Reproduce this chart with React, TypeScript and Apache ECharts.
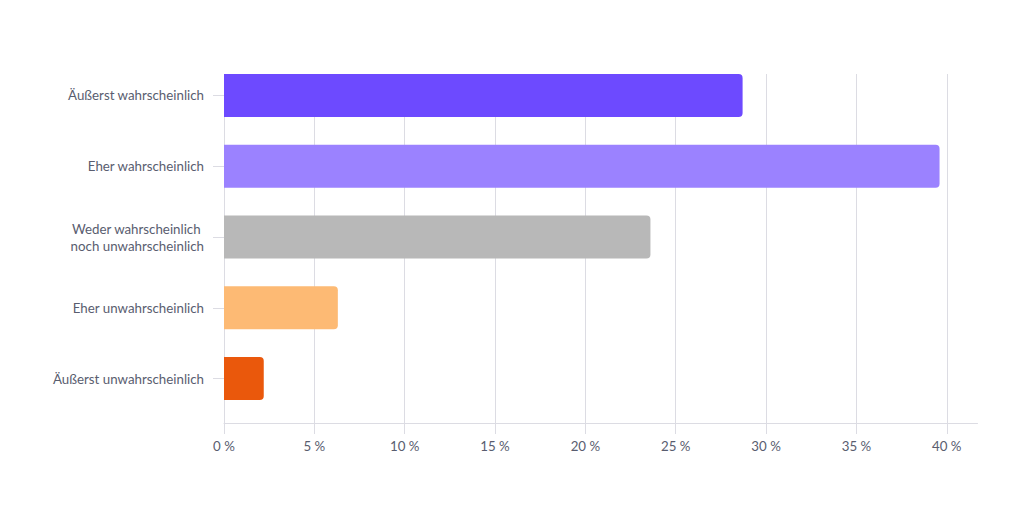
import React, { useEffect, useRef } from "react";
import * as echarts from "echarts";

const categories = [
  "Äußerst wahrscheinlich",
  "Eher wahrscheinlich",
  "Weder wahrscheinlich \nnoch unwahrscheinlich",
  "Eher unwahrscheinlich",
  "Äußerst unwahrscheinlich",
];
const values = [28.7, 39.6, 23.6, 6.3, 2.2];
const barColors = ["#6D4AFF", "#9B82FF", "#B8B8B8", "#FDBA74", "#EA580C"];
const xTicks = [0, 5, 10, 15, 20, 25, 30, 35, 40];
const xMax = 41.7;

const textColor = "#595d6f";
const lineColor = "#dcdce3";
const font = "Lato, 'Noto Sans', sans-serif";

export default function App() {
  const ref = useRef<HTMLDivElement>(null);
  useEffect(() => {
    if (!ref.current) return;
    const chart = echarts.init(ref.current, undefined, { renderer: "svg" });
    chart.setOption({
      animation: false,
      backgroundColor: "#ffffff",
      grid: [
        { left: 224, right: 46.5, top: 74, height: 349 },
        { left: 224, right: 46.5, top: 60, height: 354 },
      ],
      xAxis: [
        {
          gridIndex: 0,
          type: "value",
          min: 0,
          max: xMax,
          interval: 5,
          axisLine: { show: true, lineStyle: { color: lineColor, width: 1 } },
          axisTick: {
            show: true,
            length: 11,
            customValues: xTicks,
            lineStyle: { color: lineColor, width: 1 },
          },
          axisLabel: {
            customValues: xTicks,
            formatter: (v: number) => `${v} %`,
            margin: 16,
            color: textColor,
            fontFamily: font,
            fontSize: 13.3,
          },
          splitLine: {
            show: true,
            lineStyle: { color: lineColor, width: 1 },
          },
        },
        { gridIndex: 1, type: "value", min: 0, max: xMax, show: false },
      ],
      yAxis: [
        { gridIndex: 0, type: "category", data: categories, show: false },
        {
          gridIndex: 1,
          type: "category",
          data: categories,
          inverse: true,
          axisLine: { show: false },
          axisTick: {
            show: true,
            alignWithLabel: true,
            length: 11,
            lineStyle: { color: lineColor, width: 1 },
          },
          axisLabel: {
            margin: 20,
            color: textColor,
            fontFamily: font,
            fontSize: 13.3,
            lineHeight: 17,
            align: "right",
          },
          splitLine: { show: false },
        },
      ],
      series: [
        {
          type: "bar",
          xAxisIndex: 1,
          yAxisIndex: 1,
          barWidth: 43,
          data: values.map((v, i) => ({
            value: v,
            itemStyle: { color: barColors[i], borderRadius: [0, 4, 4, 0] },
          })),
        },
      ],
    });
    return () => chart.dispose();
  }, []);
  return (
    <div
      ref={ref}
      style={{ position: "fixed", left: 0, top: 0, width: 1024, height: 512, background: "#fff" }}
    />
  );
}
